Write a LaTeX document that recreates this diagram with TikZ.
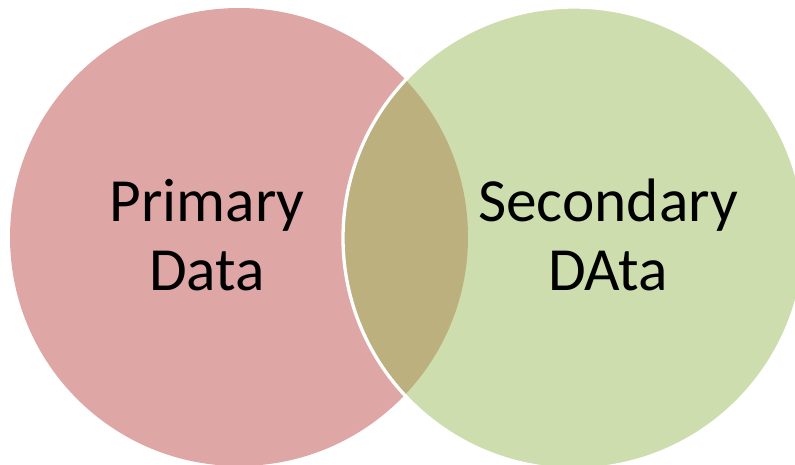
\documentclass[tikz,border=0pt]{standalone}
\usepackage{fontspec}
\setmainfont{Carlito}
\definecolor{rosa}{HTML}{DFA6A6}
\definecolor{verde}{HTML}{CEDDAE}
\definecolor{oliva}{HTML}{BCB07F}
\begin{document}
\begin{tikzpicture}[x=0.75pt,y=-0.75pt,
    texto/.style={align=center,font=\fontsize{46}{52}\selectfont}]
    \useasboundingbox (0,0) rectangle (795,464);

    % Centros de los circulos
    \coordinate (cprim) at (239,237);
    \coordinate (csec) at (574,238);

    % Circulos
    \fill[rosa] (cprim) circle (229);
    \fill[verde] (csec) circle (231);

    % Interseccion
    \begin{scope}
        \clip (cprim) circle (229);
        \fill[oliva] (csec) circle (231);
    \end{scope}
    \draw[white,line width=2.5pt] (csec) circle (231);

    % Etiquetas
    \node[texto] (prim) at (207,235) {Primary\\Data};
    \node[texto] (sec) at (608,235) {Secondary\\DAta};
\end{tikzpicture}
\end{document}
